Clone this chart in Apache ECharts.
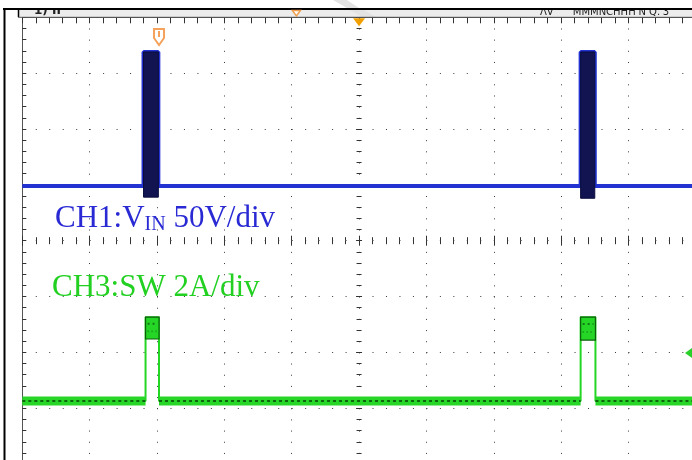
<!DOCTYPE html>
<html><head><meta charset="utf-8">
<script src="https://cdn.jsdelivr.net/npm/echarts@6/dist/echarts.min.js"></script>
<style>html,body{margin:0;padding:0;background:#fff}#c{width:692px;height:460px}</style>
</head><body><div id="c"></div>
<script>
// Screen in divisions: 10 horizontal x 8 vertical, centre = 0
const xDivs = [-5, 5];
const yDivs = [-4, 4];
// CH1 (V_IN, 50 V/div) trace, in divisions
const ch1Level = 0.98;
const ch1PulseStart = [-3.20, 3.29];
const ch1PulseEnd = [-2.98, 3.50];
const ch1PulseTop = [3.38, 3.38];
const ch1PulseBottom = [0.78, 0.76];
// CH3 (SW current, 2 A/div) trace, in divisions
const ch3Level = -2.87;
const ch3PulseStart = [-3.17, 3.29];
const ch3PulseEnd = [-2.97, 3.51];
const ch3PulseTop = [-1.37, -1.37];
const ch3PulseLow = [-1.76, -1.78];
// scope markers (divisions)
const triggerX = 0;
const trigPosX = -0.93;
const cursorX = -2.97;
const ch3MarkerY = -2.01;
// texts
const ch1Text = ['CH1:V', 'IN', ' 50V/div'];
const ch3Text = 'CH3:SW 2A/div';
const headerLeft = '1) II';
const headerRight = ['ΛV', "'MMMNCHHH'N Q.'3"];

function stepPath(level, starts, ends, tops) {
  const pts = [[xDivs[0], level]];
  for (let i = 0; i < starts.length; i++) {
    pts.push([starts[i], level], [starts[i], tops[i]], [ends[i], tops[i]], [ends[i], level]);
  }
  pts.push([xDivs[1], level]);
  return pts;
}
function baselineSegments(level, starts, ends) {
  const pts = [[xDivs[0], level]];
  for (let i = 0; i < starts.length; i++) {
    pts.push([starts[i], level], [starts[i], '-'], [ends[i], '-'], [ends[i], level]);
  }
  pts.push([xDivs[1], level]);
  return pts;
}
const ch1Path = stepPath(ch1Level, ch1PulseStart, ch1PulseEnd, ch1PulseTop);
const ch1Rects = ch1PulseStart.map((s, i) => [s, ch1PulseEnd[i], ch1PulseBottom[i], ch1PulseTop[i]]);
const ch3Path = stepPath(ch3Level, ch3PulseStart, ch3PulseEnd, ch3PulseTop);
const ch3Bands = ch3PulseStart.map((s, i) => [s, ch3PulseEnd[i], ch3PulseLow[i], ch3PulseTop[i]]);
const ch3Base = baselineSegments(ch3Level, ch3PulseStart, ch3PulseEnd);

const dotC = '#3a3a3a';
function centreAxis(dim, inside, major, minor) {
  return {
    type: 'value', min: dim === 'x' ? xDivs[0] : yDivs[0], max: dim === 'x' ? xDivs[1] : yDivs[1], interval: 1,
    position: dim === 'x' ? 'bottom' : 'left',
    axisLine: { show: false, onZero: true },
    axisTick: { show: true, inside: inside, length: major, lineStyle: { color: '#333', width: 1 } },
    minorTick: { show: true, splitNumber: 5, length: minor, lineStyle: { color: '#333', width: 1 } },
    axisLabel: { show: false }, splitLine: { show: false }
  };
}
function ch1Rect(params, api) {
  const a = api.coord([api.value(0), api.value(3)]);
  const b = api.coord([api.value(1), api.value(2)]);
  return { type: 'rect', shape: { x: a[0], y: a[1], width: b[0] - a[0], height: b[1] - a[1] },
    style: { fill: '#111451', stroke: '#0b0d3c', lineWidth: 1 } };
}
function ch3Band(params, api) {
  const a = api.coord([api.value(0), api.value(3)]);
  const b = api.coord([api.value(1), api.value(2)]);
  const w = b[0] - a[0], h = b[1] - a[1];
  return { type: 'group', children: [
    { type: 'rect', shape: { x: a[0], y: a[1], width: w, height: h },
      style: { fill: '#26d626', stroke: '#0c5e0c', lineWidth: 1.2 } },
    { type: 'line', shape: { x1: a[0] + 2, y1: a[1] + h * 0.3, x2: b[0] - 2, y2: a[1] + h * 0.3 },
      style: { stroke: '#127a12', lineWidth: 2, lineDash: [2, 3] } },
    { type: 'line', shape: { x1: a[0] + 2, y1: a[1] + h * 0.65, x2: b[0] - 2, y2: a[1] + h * 0.65 },
      style: { stroke: '#17901a', lineWidth: 2, lineDash: [1, 3] } }
  ] };
}

const option = {
  animation: false,
  backgroundColor: '#fff',
  grid: { left: 22.3, top: 17.3, width: 673.5, height: 446.8, show: false, outerBoundsMode: 'none', containLabel: false },
  xAxis: [
    { type: 'value', min: xDivs[0], max: xDivs[1], interval: 1, position: 'top',
      axisLine: { onZero: false, lineStyle: { color: '#555', width: 1 } },
      axisTick: { inside: true, length: 6, lineStyle: { color: '#333' } },
      minorTick: { show: true, splitNumber: 5, length: 6, lineStyle: { color: '#333' } },
      axisLabel: { show: false },
      splitLine: { show: true, lineStyle: { color: dotC, width: 1, type: [1, 10.17] } } },
    centreAxis('x', true, 5, 3.5),
    centreAxis('x', false, 5, 3.5)
  ],
  yAxis: [
    { type: 'value', min: yDivs[0], max: yDivs[1], interval: 1, position: 'left',
      axisLine: { onZero: false, lineStyle: { color: '#555', width: 1 } },
      axisTick: { inside: true, length: 4, lineStyle: { color: '#333' } },
      minorTick: { show: true, splitNumber: 5, length: 4, lineStyle: { color: '#333' } },
      axisLabel: { show: false },
      splitLine: { show: true, lineStyle: { color: dotC, width: 1, type: [1, 12.47] } } },
    centreAxis('y', true, 3, 2.5),
    centreAxis('y', false, 3, 2.5)
  ],
  series: [
    { type: 'line', name: 'CH1', data: ch1Path, symbol: 'none', z: 3,
      lineStyle: { color: '#2233d2', width: 4 } },
    { type: 'custom', name: 'CH1 pulse', data: ch1Rects, z: 4, renderItem: ch1Rect },
    { type: 'line', name: 'CH3', data: ch3Path, symbol: 'none', z: 3,
      lineStyle: { color: '#24d624', width: 2 } },
    { type: 'line', name: 'CH3 base', data: ch3Base, symbol: 'none', z: 3,
      lineStyle: { color: '#28d628', width: 9 } },
    { type: 'line', name: 'CH3 noise', data: ch3Base, symbol: 'none', z: 4,
      lineStyle: { color: '#0d650d', width: 2, type: [3, 3] } },
    { type: 'custom', name: 'CH3 pulse', data: ch3Bands, z: 4, renderItem: ch3Band }
  ]
};
const chart = echarts.init(document.getElementById('c'), null, { renderer: 'canvas' });
chart.setOption(option);

const px = p => chart.convertToPixel({ xAxisIndex: 0, yAxisIndex: 0 }, p);
const cv = document.createElement('canvas').getContext('2d');
function tw(t, f) { cv.font = f; return cv.measureText(t).width; }
const bigF = '31px "Liberation Serif"';
const subF = '20px "Liberation Serif"';
const gTop = px([0, yDivs[1]])[1];
const tX = px([triggerX, 0])[0];
const pX = px([trigPosX, 0])[0];
const cX = px([cursorX, 0])[0];
const gY = px([0, ch3MarkerY])[1];
const x1 = 55, x2 = x1 + tw(ch1Text[0], bigF), x3 = x2 + tw(ch1Text[1], subF);

chart.setOption({ graphic: [
  { type: 'rect', z: 100, shape: { x: 18, y: 9, width: 680, height: 8 }, style: { fill: '#ececec' } },
  { type: 'polygon', z: 101, shape: { points: [[333, 0], [347, 0], [376, 17], [362, 17]] }, style: { fill: '#e3e3e3' } },
  { type: 'text', z: 102, x: 34, y: 17, style: { text: headerLeft, font: 'bold 12px "DejaVu Sans"', fill: '#222', textVerticalAlign: 'bottom' } },
  { type: 'text', z: 102, x: 540, y: 17, style: { text: headerRight[0], font: '10px "DejaVu Sans"', fill: '#222', textVerticalAlign: 'bottom' } },
  { type: 'text', z: 102, x: 570, y: 17, style: { text: headerRight[1], font: '10px "DejaVu Sans"', fill: '#222', textVerticalAlign: 'bottom' } },
  { type: 'rect', z: 103, shape: { x: 0, y: 0, width: 692, height: 9 }, style: { fill: '#fff' } },
  { type: 'polygon', z: 104, shape: { points: [[333, 0], [347, 0], [359, 8], [347, 8]] }, style: { fill: '#e3e3e3' } },
  { type: 'line', z: 105, shape: { x1: 3, y1: 9, x2: 692, y2: 9 }, style: { stroke: '#000', lineWidth: 2 } },
  { type: 'line', z: 105, shape: { x1: 4.5, y1: 9, x2: 4.5, y2: 460 }, style: { stroke: '#000', lineWidth: 2 } },
  { type: 'line', z: 105, shape: { x1: 18.5, y1: 9, x2: 18.5, y2: 17 }, style: { stroke: '#000', lineWidth: 1.5 } },
  { type: 'line', z: 105, shape: { x1: 18, y1: gTop, x2: 692, y2: gTop }, style: { stroke: '#555', lineWidth: 1 } },
  // markers
  { type: 'polygon', z: 106, shape: { points: [[pX - 4, 10.5], [pX + 4, 10.5], [pX, 16]] }, style: { fill: '#fff', stroke: '#f0a050', lineWidth: 1.5 } },
  { type: 'polygon', z: 106, shape: { points: [[tX - 6, gTop + 1], [tX + 6, gTop + 1], [tX, gTop + 9]] }, style: { fill: '#f2a000' } },
  { type: 'polygon', z: 106, shape: { points: [[cX - 5, 29], [cX + 5, 29], [cX + 5, 38], [cX, 45], [cX - 5, 38]] }, style: { fill: '#fff', stroke: '#f4a25c', lineWidth: 2 } },
  { type: 'line', z: 107, shape: { x1: cX, y1: 31, x2: cX, y2: 37 }, style: { stroke: '#f4a25c', lineWidth: 2 } },
  { type: 'polygon', z: 106, shape: { points: [[685, gY], [692, gY - 5], [699, gY], [692, gY + 5]] }, style: { fill: '#2ad02a' } },
  // channel labels (top-aligned; baseline ~ 25px below top for 31px font)
  { type: 'text', z: 110, x: x1, y: 203, style: { text: ch1Text[0], font: bigF, fill: '#2a2ad4' } },
  { type: 'text', z: 110, x: x2, y: 215, style: { text: ch1Text[1], font: subF, fill: '#2a2ad4' } },
  { type: 'text', z: 110, x: x3, y: 203, style: { text: ch1Text[2], font: bigF, fill: '#2a2ad4' } },
  { type: 'text', z: 110, x: 52, y: 272, style: { text: ch3Text, font: bigF, fill: '#22d022' } }
] });
</script></body></html>
